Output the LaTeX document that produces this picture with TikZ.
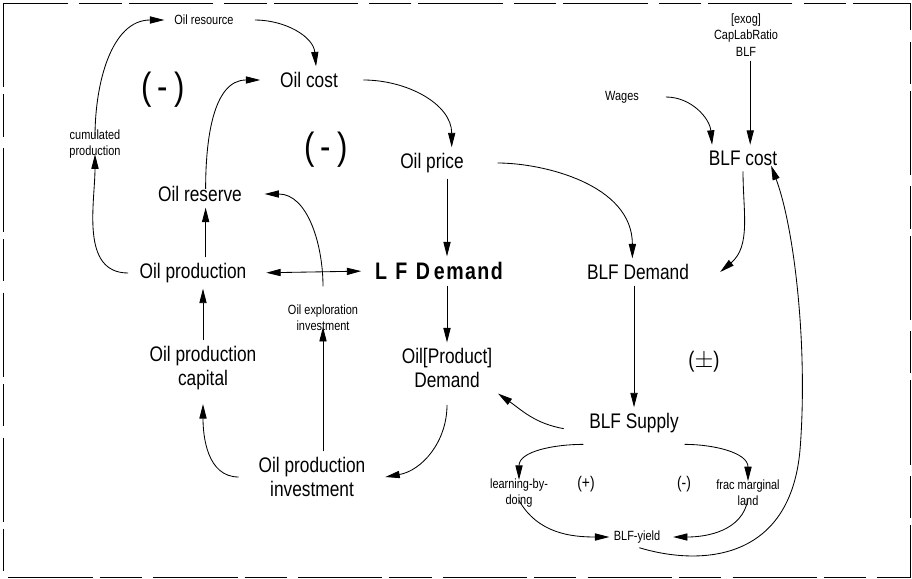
\documentclass[tikz,border=0pt]{standalone}
\usepackage{fontspec}
\setmainfont{Liberation Sans}[FakeStretch=0.82]
\usetikzlibrary{arrows.meta}

\begin{document}
\begin{tikzpicture}[x=0.025cm,y=-0.025cm,
  >={Triangle[length=3.6mm,width=1.8mm]},
  big/.style={font=\fontsize{15}{17}\selectfont,align=center,inner sep=4pt},
  sml/.style={font=\fontsize{9.5}{11.5}\selectfont,align=center,inner sep=3pt},
  sign/.style={font=\fontsize{27}{28}\selectfont},
  smallsign/.style={font=\fontsize{12}{13}\selectfont},
  link/.style={->,semithick}]
\useasboundingbox (0,0) rectangle (912,578);

% scanned frame
\draw[semithick,dash pattern=on 60 off 5 on 30 off 8] (3,3) rectangle (910,577);

% oil side
\node[sml] (resource) at (204,20) {Oil resource};
\node[big] (oilcost) at (309,80) {Oil cost};
\node[sml] (cumprod) at (95,144) {cumulated\\production};
\node[big] (reserve) at (200,194) {Oil reserve};
\node[big] (oilprice) at (432,163) {Oil price};
\node[big] (production) at (193,273) {Oil production};
\node[font=\bfseries\fontsize{17}{19}\selectfont,inner sep=4pt] (lfdemand) at (439,271)
  {L\hspace{0.35em}F\hspace{0.35em}D\,{\addfontfeature{LetterSpace=6}emand}};
\node[sml] (exploration) at (323,318) {Oil exploration\\investment};
\node[big] (capital) at (203,368) {Oil production\\capital};
\node[big] (oildemand) at (447,368) {Oil[Product]\\Demand};
\node[big] (investment) at (312,477) {Oil production\\investment};

% loop signs
\node[sign] (loopa) at (163,90) {(\,-\,)};
\node[sign] (loopb) at (326,150) {(\,-\,)};
\node[font=\fontsize{16}{17}\selectfont] (loopc) at (704,362) {($\pm$)};
\node[smallsign] (loopd) at (586,484) {(+)};
\node[smallsign] (loope) at (684,484) {(-)};

% BLF side
\node[sml] (exog) at (746,35) {[exog]\\CapLabRatio\\BLF};
\node[sml] (wages) at (622,97) {Wages};
\node[big] (blfcost) at (743,158) {BLF cost};
\node[big] (blfdemand) at (638,272) {BLF Demand};
\node[big] (blfsupply) at (634,423) {BLF Supply};
\node[sml] (learning) at (519,493) {learning-by-\\doing};
\node[sml] (marginal) at (748,493) {frac marginal\\land};
\node[sml] (yield) at (637,537) {BLF-yield};

% connectors
\draw[link] ([yshift=-8]cumprod.north) to[out=90,in=180] ([xshift=-4]resource.west);
\draw[link] ([xshift=12]resource.east) to[out=0,in=95] ([xshift=5]oilcost.north);
\draw[link] ([xshift=4,yshift=-6]reserve.north) to[out=90,in=180] ([xshift=-10]oilcost.west);
\draw[link] ([xshift=14]oilcost.east) to[out=0,in=90] ([xshift=14]oilprice.north);
\draw[link] ([xshift=-4]production.west) to[out=180,in=-90] ([yshift=6]cumprod.south);
\draw[link] ([xshift=4]reserve.south |- production.north) -- ([xshift=4]reserve.south);
\draw[link] ([yshift=10]exploration.north) to[out=90,in=0] ([xshift=12]reserve.east);
\draw[<->,semithick,shorten <=3.5mm,shorten >=2mm] (production.east) -- (lfdemand.west);
\draw[link] (oildemand.north |- oilprice.south) -- (oildemand.north |- lfdemand.north);
\draw[link] (oildemand.north |- lfdemand.south) -- (oildemand.north);
\draw[link,shorten <=7mm] (oilprice.east) to[out=0,in=90] ([xshift=-4]blfdemand.north);
\draw[link] (blfcost.south) to[out=-90,in=40] ([xshift=18]blfdemand.east);
\draw[link] ([xshift=16]wages.east) to[out=0,in=95] ([xshift=-22]blfcost.north);
\draw[link] ([xshift=3]exog.south) -- ([xshift=3]exog.south |- blfcost.north);
\draw[link] (blfsupply.north |- blfdemand.south) -- (blfsupply.north);
\draw[link] ([xshift=-14,yshift=-4]blfsupply.west) to[out=170,in=-35] (oildemand.south east);
\draw[link] ([yshift=-8]oildemand.south) to[out=-90,in=10] ([xshift=10]investment.east);
\draw[link] ([xshift=-10]investment.west) to[out=180,in=-90] ([yshift=-6]capital.south);
\draw[link] (exploration.south |- investment.north) -- ([yshift=6]exploration.south);
\draw[link] (capital.north) -- (capital.north |- production.south);
\draw[link] ([yshift=-4]blfsupply.south west) to[out=180,in=90] ([yshift=-4]learning.north);
\draw[link] ([yshift=-4]blfsupply.south east) to[out=0,in=90] ([yshift=-4]marginal.north);
\draw[link] ([yshift=8]learning.south) to[out=-60,in=180] (yield.west);
\draw[link] ([yshift=8]marginal.south) to[out=-100,in=0] ([xshift=6]yield.east);
\draw[link] ([xshift=-18]yield.south east) .. controls (700,566) and (790,562) .. (800,450)
  .. controls (808,350) and (795,230) .. ([xshift=20,yshift=4]blfcost.south);
\end{tikzpicture}
\end{document}
